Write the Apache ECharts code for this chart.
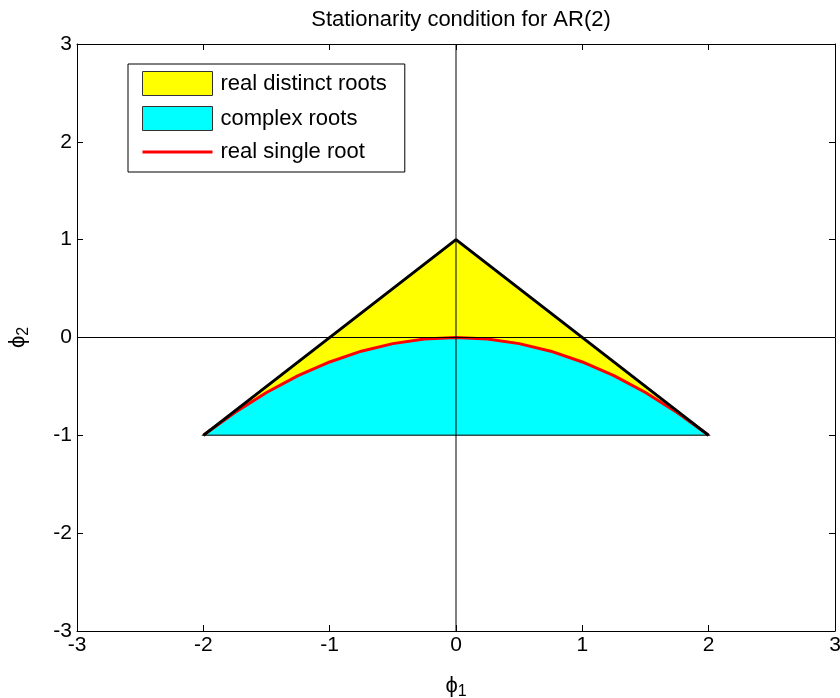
<!DOCTYPE html>
<html lang="en">
<head>
    <meta charset="UTF-8">
    <title>Stationarity condition for AR(2)</title>
    <script src="https://cdn.jsdelivr.net/npm/echarts@6/dist/echarts.min.js"></script>
    <style>
        html, body {
            margin: 0;
            background: #fff;
        }
        #chart {
            width: 840px;
            height: 698px;
        }
    </style>
</head>
<body>
<div id="chart"></div>
<script>
    // tick values for both axes
    let ticks = [-3, -2, -1, 0, 1, 2, 3];

    // yellow region: triangle (-2,-1), (0,1), (2,-1)
    let trianglePts = [[-2, -1], [0, 1], [2, -1]];
    // black triangle edges (upper two sides)
    let edgePts = [[-2, -1], [0, 1], [2, -1]];

    // red curve phi2 = -phi1^2/4
    let curvePts = [
        [-2, -1], [-1.75, -0.766], [-1.5, -0.5625], [-1.25, -0.39], [-1, -0.25],
        [-0.75, -0.14], [-0.5, -0.0625], [-0.25, -0.016], [0, 0],
        [0.25, -0.016], [0.5, -0.0625], [0.75, -0.14], [1, -0.25],
        [1.25, -0.39], [1.5, -0.5625], [1.75, -0.766], [2, -1]
    ];

    // crosshair lines through the origin
    let vLine = [[0, -3], [0, 3]];
    let hLine = [[-3, 0], [3, 0]];

    let font = 'Liberation Sans, Arial, sans-serif';

    function polygon(name, pts, fill, stroke, width) {
        return {
            name: name,
            type: 'custom',
            data: pts,
            encode: {x: 0, y: 1},
            silent: true,
            renderItem: function (params, api) {
                if (params.dataIndex !== 0) return;
                return {
                    type: 'polygon',
                    shape: {points: pts.map(function (p) { return api.coord(p); })},
                    style: {fill: fill, stroke: stroke, lineWidth: width}
                };
            }
        };
    }

    function plainLine(name, pts, color, width, z) {
        return {
            name: name,
            type: 'line',
            data: pts,
            symbol: 'none',
            silent: true,
            z: z,
            lineStyle: {color: color, width: width}
        };
    }

    let axisBase = {
        type: 'value',
        min: ticks[0],
        max: ticks[ticks.length - 1],
        interval: 1,
        splitLine: {show: false},
        axisLine: {onZero: false, lineStyle: {color: '#000', width: 1}},
        axisTick: {inside: true, length: 6, lineStyle: {color: '#000'}},
        axisLabel: {color: '#000', fontSize: 21, fontFamily: font}
    };

    let nameRich = {
        p: {fontSize: 22, fontFamily: font, color: '#000'},
        s: {fontSize: 16, fontFamily: font, color: '#000', verticalAlign: 'bottom', padding: [12, 0, 0, 0]}
    };

    let myChart = echarts.init(document.getElementById('chart'));
    let option = {
        animation: false,
        title: {
            text: 'Stationarity condition for AR(2)',
            left: 456,
            top: 4,
            textAlign: 'center',
            textStyle: {color: '#000', fontSize: 22, fontWeight: 'normal', fontFamily: font}
        },
        grid: {left: 77, right: 5, top: 44, bottom: 67, containLabel: false, outerBoundsMode: 'none'},
        legend: {
            orient: 'vertical',
            left: 128,
            top: 64,
            padding: [7, 18, 9, 14],
            itemWidth: 70,
            itemHeight: 24,
            itemGap: 10,
            backgroundColor: '#fff',
            borderColor: '#000',
            borderWidth: 1,
            borderRadius: 0,
            selectedMode: false,
            textStyle: {color: '#000', fontSize: 22, fontFamily: font, padding: [0, 0, 0, 3]},
            data: [
                {name: 'real distinct roots', icon: 'rect',
                    itemStyle: {color: '#ffff00', borderColor: '#333', borderWidth: 1}},
                {name: 'complex roots', icon: 'rect',
                    itemStyle: {color: '#00ffff', borderColor: '#333', borderWidth: 1}},
                {name: 'real single root', icon: 'path://M0,0H70V3H0Z',
                    itemStyle: {color: '#ff0000', borderWidth: 0}}
            ]
        },
        xAxis: [
            Object.assign({}, axisBase, {
                position: 'bottom',
                axisLabel: Object.assign({}, axisBase.axisLabel, {margin: 4}),
                name: '{p|ϕ}{s|1}',
                nameLocation: 'middle',
                nameGap: 41,
                nameTextStyle: {rich: nameRich}
            }),
            Object.assign({}, axisBase, {
                position: 'top',
                axisLabel: {show: false}
            })
        ],
        yAxis: [
            Object.assign({}, axisBase, {
                position: 'left',
                axisLabel: Object.assign({}, axisBase.axisLabel, {margin: 5}),
                name: '{p|ϕ}{s|2}',
                nameLocation: 'middle',
                nameGap: 45,
                nameRotate: 90,
                nameTextStyle: {rich: nameRich}
            }),
            Object.assign({}, axisBase, {
                position: 'right',
                axisLabel: {show: false}
            })
        ],
        series: [
            polygon('real distinct roots', trianglePts, '#ffff00', null, 0),
            polygon('complex roots', curvePts, '#00ffff', '#2f4f4f', 1.5),
            plainLine('real single root', curvePts, '#ff0000', 3, 3),
            plainLine('edges', edgePts, '#000', 3, 4),
            plainLine('vline', vLine, '#000', 1, 5),
            plainLine('hline', hLine, '#000', 1, 5)
        ]
    };
    myChart.setOption(option);
</script>
</body>
</html>
